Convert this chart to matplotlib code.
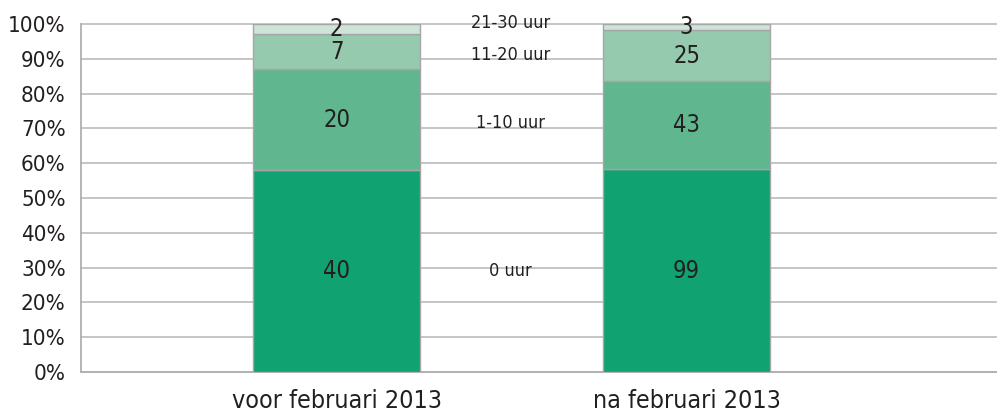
import numpy as np
import matplotlib.pyplot as plt

# Data
categories = ['voor februari 2013', 'na februari 2013']
groups = ['0 uur', '1-10 uur', '11-20 uur', '21-30 uur']
counts = {
    '0 uur': [40, 99],
    '1-10 uur': [20, 43],
    '11-20 uur': [7, 25],
    '21-30 uur': [2, 3],
}
colors = ['#10a271', '#5fb68f', '#96caae', '#cde5d8']

plt.rcParams['font.family'] = ['DejaVu Sans']
plt.rcParams['font.stretch'] = 'condensed'

totals = np.sum([counts[g] for g in groups], axis=0)
x = np.arange(len(categories))

fig = plt.figure(figsize=(10.03, 4.16), dpi=100)
ax = fig.add_axes([81 / 1003, 1 - 372 / 416, 915 / 1003, 348 / 416])

bottom = np.zeros(len(categories))
for g, c in zip(groups, colors):
    pct = np.array(counts[g]) / totals * 100
    ax.bar(x, pct, 0.477, bottom=bottom, color=c, edgecolor='#a6a6a6', linewidth=1, zorder=3)
    for xi, b, p, n in zip(x, bottom, pct, counts[g]):
        ax.text(xi, b + p / 2, str(n), ha='center', va='center', fontsize=17, color='#231f20', zorder=4)
    bottom += pct

# labels for the groups between the bars
label_y = {'0 uur': 28.9, '1-10 uur': 71.5, '11-20 uur': 91.0, '21-30 uur': 100.3}
for g in groups:
    ax.text(0.497, label_y[g], g, ha='center', va='center', fontsize=13, color='#231f20', zorder=4)

ax.set_xlim(-0.730, 1.884)
ax.set_ylim(0, 100)
ax.set_yticks(np.arange(0, 101, 10))
ax.set_yticklabels([f'{v}%' for v in range(0, 101, 10)])
ax.set_xticks(x)
ax.set_xticklabels(categories)
ax.tick_params(axis='both', length=0, colors='#231f20')
ax.tick_params(axis='y', pad=11, labelsize=16)
ax.tick_params(axis='x', pad=12, labelsize=18)
ax.yaxis.grid(True, color='#c0c0c0', linewidth=1.3, zorder=0)
for line in ax.get_ygridlines():
    line.set_clip_on(False)
for s in ['right', 'top']:
    ax.spines[s].set_visible(False)
for s in ['left', 'bottom']:
    ax.spines[s].set_color('#b0b0b0')
    ax.spines[s].set_linewidth(1.3)

fig.savefig('out.png', dpi=100)
